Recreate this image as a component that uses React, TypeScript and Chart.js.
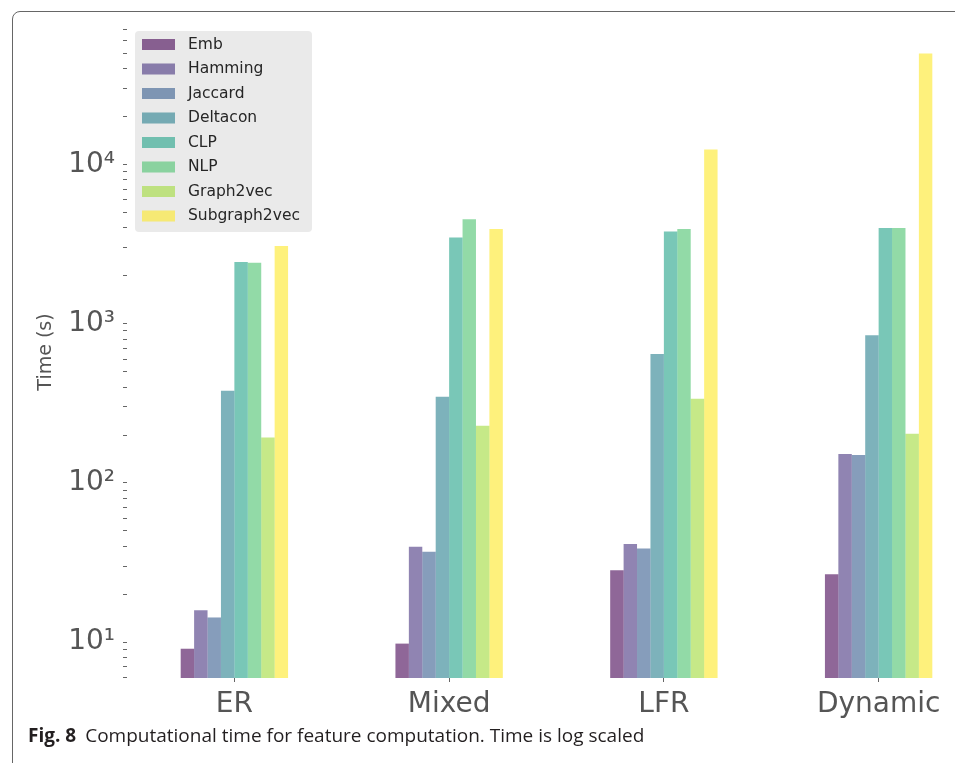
import React, { useEffect, useRef } from 'react';
import { Chart, registerables } from 'chart.js';

Chart.register(...registerables);

// ---- data ----
const CATEGORIES = ['ER', 'Mixed', 'LFR', 'Dynamic'];
const METHODS = ['Emb', 'Hamming', 'Jaccard', 'Deltacon', 'CLP', 'NLP', 'Graph2vec', 'Subgraph2vec'];
const EMB = [9.1, 9.8, 28.3, 26.7];
const HAMMING = [15.9, 39.8, 41.4, 152];
const JACCARD = [14.3, 37.0, 38.8, 150];
const DELTACON = [379, 348, 646, 845];
const CLP = [2440, 3480, 3790, 3990];
const NLP = [2410, 4520, 3930, 3990];
const GRAPH2VEC = [193, 229, 338, 204];
const SUBGRAPH2VEC = [3070, 3925, 12420, 49800];
const SERIES = [EMB, HAMMING, JACCARD, DELTACON, CLP, NLP, GRAPH2VEC, SUBGRAPH2VEC];

const COLORS = ['#440154', '#46327e', '#365c8d', '#277f8e', '#1fa187', '#4ac16d', '#a0da39', '#fde725'];
const ALPHA = 0.6;

const Y_MIN = 5.96;
const Y_MAX = 74000;
const MAJOR_TICKS = [10, 100, 1000, 10000];
const MAJOR_LABELS = ['10¹', '10²', '10³', '10⁴'];

const CAPTION_BOLD = 'Fig. 8';
const CAPTION_TEXT = 'Computational time for feature computation. Time is log scaled';

function rgba(hex: string, a: number) {
  const n = parseInt(hex.slice(1), 16);
  return `rgba(${(n >> 16) & 255},${(n >> 8) & 255},${n & 255},${a})`;
}

function logTickValues(min: number, max: number) {
  const out: number[] = [];
  for (let e = Math.floor(Math.log10(min)); e <= Math.ceil(Math.log10(max)); e++) {
    for (let k = 1; k <= 9; k++) {
      const v = k * Math.pow(10, e);
      if (v >= min && v <= max) out.push(v);
    }
  }
  return out;
}

const legendPlugin = {
  id: 'boxLegend',
  afterDraw(chart: any) {
    const { ctx, chartArea } = chart;
    const x0 = chartArea.left + 8;
    const y0 = chartArea.top + 5;
    const w = 177;
    const h = 201;
    ctx.save();
    ctx.fillStyle = '#eaeaea';
    ctx.beginPath();
    (ctx as any).roundRect(x0, y0, w, h, 4);
    ctx.fill();
    ctx.font = '15.5px "DejaVu Sans"';
    ctx.textBaseline = 'middle';
    ctx.textAlign = 'left';
    chart.data.datasets.forEach((ds: any, i: number) => {
      const cy = y0 + 13.5 + i * 24.5;
      ctx.fillStyle = ds.backgroundColor;
      ctx.fillRect(x0 + 7, cy - 5.5, 33, 11);
      ctx.fillStyle = '#262626';
      ctx.fillText(ds.label, x0 + 53, cy);
    });
    ctx.restore();
  },
};

export default function App() {
  const ref = useRef<HTMLCanvasElement>(null);

  useEffect(() => {
    if (!ref.current) return;
    const tickValues = logTickValues(Y_MIN, Y_MAX);
    const chart = new Chart(ref.current, {
      type: 'bar',
      data: {
        labels: CATEGORIES,
        datasets: METHODS.map((m, i) => ({
          label: m,
          data: SERIES[i],
          backgroundColor: rgba(COLORS[i], ALPHA),
          borderWidth: 0,
          categoryPercentage: 0.5,
          barPercentage: 1.0,
        })),
      },
      options: {
        responsive: false,
        animation: false,
        layout: { padding: { top: 26, right: 14, bottom: 0, left: 0 } },
        plugins: {
          legend: { display: false },
          tooltip: { enabled: false },
        },
        scales: {
          x: {
            type: 'category',
            offset: true,
            border: { display: false },
            grid: {
              display: true,
              offset: false,
              drawOnChartArea: false,
              drawTicks: true,
              tickLength: 4,
              color: '#666',
            },
            ticks: {
              color: '#555',
              font: { family: '"DejaVu Sans"', size: 28 },
              padding: 6,
              maxRotation: 0,
            },
            afterFit: (scale: any) => {
              scale.height = 85;
            },
          },
          y: {
            type: 'logarithmic',
            min: Y_MIN,
            max: Y_MAX,
            border: { display: false },
            grid: {
              display: true,
              drawOnChartArea: false,
              drawTicks: true,
              tickLength: 4,
              color: '#666',
            },
            afterBuildTicks: (scale: any) => {
              scale.ticks = tickValues.map((v) => ({ value: v }));
            },
            ticks: {
              autoSkip: false,
              color: '#555',
              font: { family: '"DejaVu Sans"', size: 28 },
              padding: 8,
              callback: (value: any) => {
                const idx = MAJOR_TICKS.indexOf(Number(value));
                return idx >= 0 ? MAJOR_LABELS[idx] : '';
              },
            },
            title: {
              display: true,
              text: 'Time (s)',
              color: '#555',
              font: { family: '"DejaVu Sans"', size: 19 },
              padding: { top: 35, bottom: 0 },
            },
            afterFit: (scale: any) => {
              scale.width = 127;
            },
          },
        },
      },
      plugins: [legendPlugin],
    });
    return () => chart.destroy();
  }, []);

  return (
    <div
      style={{
        position: 'fixed',
        left: 0,
        top: 0,
        width: 955,
        height: 763,
        overflow: 'hidden',
        background: '#fff',
      }}
    >
      <div
        style={{
          position: 'absolute',
          left: 12,
          top: 11,
          width: 1100,
          height: 900,
          border: '1.5px solid #666',
          borderRadius: 8,
        }}
      />
      <canvas
        ref={ref}
        width={1000}
        height={763}
        style={{ position: 'absolute', left: 0, top: 0, width: 1000, height: 763 }}
      />
      <div
        style={{
          position: 'absolute',
          left: 28,
          top: 722,
          fontFamily: '"Open Sans", sans-serif',
          fontSize: 19,
          color: '#231f20',
          whiteSpace: 'nowrap',
        }}
      >
        <b>{CAPTION_BOLD}</b>
        <span style={{ marginLeft: 9 }}>{CAPTION_TEXT}</span>
      </div>
    </div>
  );
}
